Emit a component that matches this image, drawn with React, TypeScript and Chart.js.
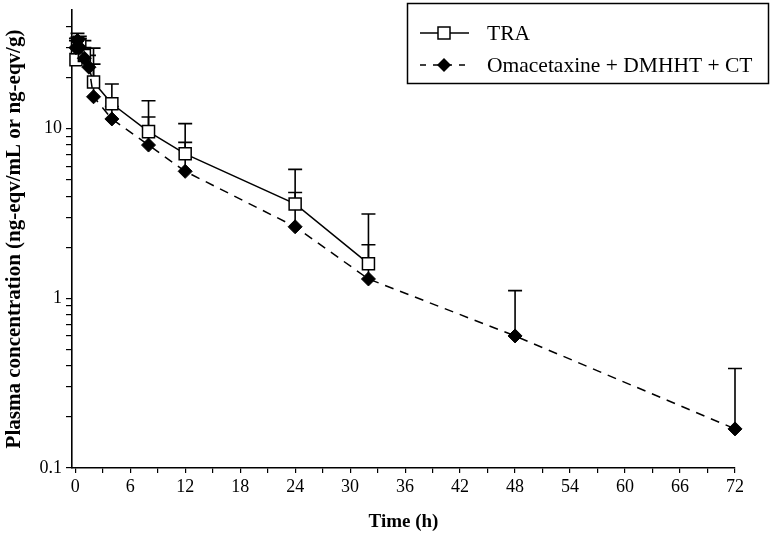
import React, { useEffect, useRef } from 'react';
import { Chart, registerables } from 'chart.js';

Chart.register(...registerables);

// ---- data ----
const traTimes = [0.083, 0.25, 0.5, 1, 2, 4, 8, 12, 24, 32];
const traMean = [25.5, 30, 31, 27, 18.8, 14.0, 9.6, 7.1, 3.6, 1.6];
const traUpper = [34, 36.4, 35, 33, 29.8, 18.3, 14.6, 10.7, 5.75, 3.14];

const omaTimes = [0.083, 0.25, 0.5, 1, 1.5, 2, 4, 8, 12, 24, 32, 48, 72];
const omaMean = [30, 33, 30, 26, 23, 15.4, 11.4, 8.0, 5.6, 2.64, 1.3, 0.6, 0.17];
const omaUpper = [33, 34.6, 34, 30, 27, 24, 13.5, 11.7, 8.3, 4.2, 2.07, 1.11, 0.386];

const xTickValues = [0, 3, 6, 9, 12, 15, 18, 21, 24, 27, 30, 33, 36, 39, 42, 45, 48, 51, 54, 57, 60, 63, 66, 69, 72];
const yTickValues = [0.1, 0.2, 0.3, 0.4, 0.5, 0.6, 0.7, 0.8, 0.9, 1, 2, 3, 4, 5, 6, 7, 8, 9, 10, 20, 30, 40];
const yLabelled = [0.1, 1, 10];

const legendLabels = ['TRA', 'Omacetaxine + DMHHT + CT'];
const xTitle = 'Time (h)';
const yTitle = 'Plasma concentration (ng-eqv/mL or ng-eqv/g)';

const SERIF = '"Liberation Serif", "Times New Roman", serif';

export default function App() {
  const ref = useRef<HTMLCanvasElement | null>(null);

  useEffect(() => {
    document.body.style.margin = '0';
    const canvas = ref.current;
    if (!canvas) return;

    const errorBars = {
      id: 'errorBars',
      beforeDatasetsDraw(chart: any) {
        const { ctx, scales } = chart;
        const xs = scales.x;
        const ys = scales.y;
        const series = [
          { t: traTimes, m: traMean, u: traUpper },
          { t: omaTimes, m: omaMean, u: omaUpper },
        ];
        ctx.save();
        ctx.strokeStyle = '#000';
        ctx.lineWidth = 1.6;
        ctx.setLineDash([]);
        for (const s of series) {
          for (let i = 0; i < s.t.length; i++) {
            const x = xs.getPixelForValue(s.t[i]);
            const y0 = ys.getPixelForValue(s.m[i]);
            const y1 = ys.getPixelForValue(s.u[i]);
            ctx.beginPath();
            ctx.moveTo(x, y0);
            ctx.lineTo(x, y1);
            ctx.moveTo(x - 7, y1);
            ctx.lineTo(x + 7, y1);
            ctx.stroke();
          }
        }
        ctx.restore();
      },
    };

    const legendBox = {
      id: 'legendBox',
      afterDraw(chart: any) {
        const { ctx } = chart;
        ctx.save();
        ctx.strokeStyle = '#000';
        ctx.fillStyle = '#000';
        ctx.lineWidth = 1.5;
        ctx.setLineDash([]);
        ctx.strokeRect(407.5, 3.5, 361, 80);
        const r1 = 33;
        ctx.beginPath();
        ctx.moveTo(420, r1);
        ctx.lineTo(469, r1);
        ctx.stroke();
        ctx.fillStyle = '#fff';
        ctx.fillRect(438, r1 - 6, 12, 12);
        ctx.strokeRect(438, r1 - 6, 12, 12);
        const r2 = 65;
        ctx.setLineDash([6, 7]);
        ctx.beginPath();
        ctx.moveTo(420, r2);
        ctx.lineTo(469, r2);
        ctx.stroke();
        ctx.setLineDash([]);
        ctx.fillStyle = '#000';
        ctx.beginPath();
        ctx.moveTo(444, r2 - 7);
        ctx.lineTo(451, r2);
        ctx.lineTo(444, r2 + 7);
        ctx.lineTo(437, r2);
        ctx.closePath();
        ctx.fill();
        ctx.font = '21.5px ' + SERIF;
        ctx.textBaseline = 'middle';
        ctx.textAlign = 'left';
        ctx.fillText(legendLabels[0], 487, r1 + 1);
        ctx.fillText(legendLabels[1], 487, r2 + 1);
        ctx.restore();
      },
    };

    const zeroPad = (s: any) => {
      s.paddingTop = 0;
      s.paddingBottom = 0;
      s.paddingLeft = 0;
      s.paddingRight = 0;
    };

    const chart = new Chart(canvas, {
      type: 'scatter',
      data: {
        datasets: [
          {
            label: legendLabels[0],
            data: traTimes.map((t, i) => ({ x: t, y: traMean[i] })),
            showLine: true,
            order: 1,
            borderColor: '#000',
            borderWidth: 1.5,
            pointStyle: 'rect',
            pointRadius: 8.5,
            pointBackgroundColor: '#fff',
            pointBorderColor: '#000',
            pointBorderWidth: 1.5,
            clip: false,
          } as any,
          {
            label: legendLabels[1],
            data: omaTimes.map((t, i) => ({ x: t, y: omaMean[i] })),
            showLine: true,
            order: 0,
            borderColor: '#000',
            borderWidth: 1.5,
            borderDash: [9, 7],
            pointStyle: 'rectRot',
            pointRadius: 7,
            pointBackgroundColor: '#000',
            pointBorderColor: '#000',
            pointBorderWidth: 1,
            clip: false,
          } as any,
        ],
      },
      options: {
        responsive: false,
        animation: false,
        events: [],
        layout: { padding: { top: 5, right: 47, left: 0, bottom: 0 } },
        plugins: {
          legend: { display: false },
          tooltip: { enabled: false },
        },
        scales: {
          x: {
            type: 'linear',
            min: -0.35,
            max: 72,
            afterBuildTicks: (s: any) => {
              s.ticks = xTickValues.map((v) => ({ value: v }));
            },
            afterFit: (s: any) => {
              s.height = 67;
              zeroPad(s);
            },
            ticks: {
              autoSkip: false,
              maxRotation: 0,
              color: '#000',
              padding: 3,
              font: { family: SERIF, size: 18 },
              callback: (v: any) => (Number(v) % 6 === 0 ? String(v) : ''),
            },
            grid: {
              drawOnChartArea: false,
              drawTicks: true,
              tickLength: 5,
              color: '#000',
              lineWidth: 1.2,
            },
            border: { display: true, color: '#000', width: 1.6 },
            title: {
              display: true,
              text: xTitle,
              color: '#000',
              font: { family: SERIF, size: 19, weight: 'bold' },
              padding: { top: 0, bottom: 2 },
            },
          },
          y: {
            type: 'logarithmic',
            min: 0.1,
            max: 50,
            afterBuildTicks: (s: any) => {
              s.ticks = yTickValues.map((v) => ({ value: v }));
            },
            afterFit: (s: any) => {
              s.width = 72;
              zeroPad(s);
            },
            ticks: {
              autoSkip: false,
              color: '#000',
              padding: 4,
              font: { family: SERIF, size: 18, lineHeight: 0.5 },
              callback: (v: any) => (yLabelled.includes(Number(v)) ? String(v) : ''),
            },
            grid: {
              drawOnChartArea: false,
              drawTicks: true,
              tickLength: 6,
              color: '#000',
              lineWidth: 1.2,
            },
            border: { display: true, color: '#000', width: 1.6 },
            title: {
              display: true,
              text: yTitle,
              color: '#000',
              font: { family: SERIF, size: 21, weight: 'bold' },
              padding: { top: 2, bottom: 0 },
            },
          },
        },
      },
      plugins: [errorBars, legendBox],
    } as any);

    return () => {
      chart.destroy();
    };
  }, []);

  return (
    <div style={{ width: 782, height: 535 }}>
      <canvas ref={ref} width={782} height={535} style={{ display: 'block' }} />
    </div>
  );
}
